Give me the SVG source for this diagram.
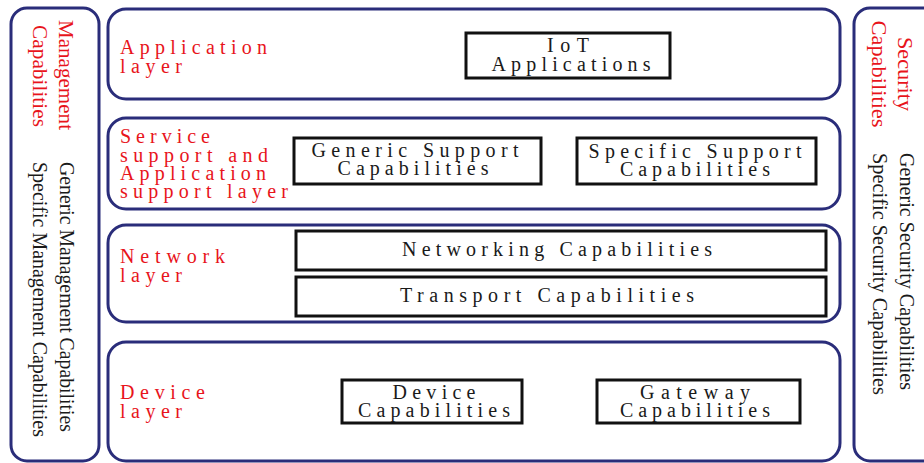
<svg xmlns="http://www.w3.org/2000/svg" width="924" height="463" viewBox="0 0 924 463">
<style>
.panel{fill:#fff;stroke:#2a2d7a;stroke-width:3}
.box{fill:#fff;stroke:#111;stroke-width:3}
.red{fill:#e8141b;font-family:"Liberation Serif",serif;font-size:20px}
.blk{fill:#1a1a1a;font-family:"Liberation Serif",serif;font-size:20px}
.vr{fill:#e8141b;font-family:"Liberation Serif",serif;font-size:22px}
.vb{fill:#1a1a1a;font-family:"Liberation Serif",serif;font-size:22px}
</style>
<rect width="924" height="463" fill="#fff"/>
<g id="management">
<rect class="panel" x="11" y="8" width="88" height="453" rx="16"/>
<text class="vr" transform="translate(59,75) rotate(90)" text-anchor="middle" textLength="110" lengthAdjust="spacingAndGlyphs">Management</text>
<text class="vr" transform="translate(33,76) rotate(90)" text-anchor="middle" textLength="102" lengthAdjust="spacingAndGlyphs">Capabilities</text>
<text class="vb" transform="translate(60,162) rotate(90)" textLength="270" lengthAdjust="spacingAndGlyphs">Generic Management Capabilities</text>
<text class="vb" transform="translate(33,162) rotate(90)" textLength="275" lengthAdjust="spacingAndGlyphs">Specific Management Capabilities</text>
</g>
<g id="security">
<rect class="panel" x="854" y="8" width="84" height="453" rx="16"/>
<text class="vr" transform="translate(898,74) rotate(90)" text-anchor="middle" textLength="74" lengthAdjust="spacingAndGlyphs">Security</text>
<text class="vr" transform="translate(872,74) rotate(90)" text-anchor="middle" textLength="107" lengthAdjust="spacingAndGlyphs">Capabilities</text>
<text class="vb" transform="translate(900,153) rotate(90)" textLength="237" lengthAdjust="spacingAndGlyphs">Generic Security Capabilities</text>
<text class="vb" transform="translate(873,153) rotate(90)" textLength="242" lengthAdjust="spacingAndGlyphs">Specific Security Capabilities</text>
</g>
<g id="application-layer">
<rect class="panel" x="108" y="9" width="732" height="90" rx="18"/>
<text class="red" x="120" y="54" textLength="147">Application</text>
<text class="red" x="120" y="73" textLength="62">layer</text>
</g>
<g id="iot-applications">
<rect class="box" x="466" y="33" width="204" height="45"/>
<text class="blk" x="568" y="52" text-anchor="middle" textLength="42">IoT</text>
<text class="blk" x="571" y="71" text-anchor="middle" textLength="159">Applications</text>
</g>
<g id="service-layer">
<rect class="panel" x="108" y="118" width="732" height="91" rx="18"/>
<text class="red" x="120" y="143" textLength="90">Service</text>
<text class="red" x="120" y="162" textLength="148">support and</text>
<text class="red" x="120" y="180" textLength="146">Application</text>
<text class="red" x="120" y="198" textLength="168">support layer</text>
</g>
<g id="generic-support">
<rect class="box" x="294" y="138" width="247" height="46"/>
<text class="blk" x="415" y="157" text-anchor="middle" textLength="207">Generic Support</text>
<text class="blk" x="413" y="175" text-anchor="middle" textLength="151">Capabilities</text>
</g>
<g id="specific-support">
<rect class="box" x="577" y="138" width="239" height="46"/>
<text class="blk" x="695" y="158" text-anchor="middle" textLength="213">Specific Support</text>
<text class="blk" x="695" y="176" text-anchor="middle" textLength="150">Capabilities</text>
</g>
<g id="network-layer">
<rect class="panel" x="108" y="225" width="732" height="97" rx="18"/>
<text class="red" x="120" y="263" textLength="105">Network</text>
<text class="red" x="120" y="282" textLength="62">layer</text>
</g>
<g id="networking">
<rect class="box" x="296" y="231" width="530" height="39"/>
<text class="blk" x="557" y="256" text-anchor="middle" textLength="310">Networking Capabilities</text>
</g>
<g id="transport">
<rect class="box" x="296" y="277" width="530" height="39"/>
<text class="blk" x="547" y="302" text-anchor="middle" textLength="294">Transport  Capabilities</text>
</g>
<g id="device-layer">
<rect class="panel" x="108" y="342" width="732" height="119" rx="18"/>
<text class="red" x="120" y="399" textLength="85">Device</text>
<text class="red" x="120" y="418" textLength="62">layer</text>
</g>
<g id="device-cap">
<rect class="box" x="342" y="380" width="180" height="43"/>
<text class="blk" x="434" y="399" text-anchor="middle" textLength="83">Device</text>
<text class="blk" x="434" y="417" text-anchor="middle" textLength="152">Capabilities</text>
</g>
<g id="gateway-cap">
<rect class="box" x="597" y="380" width="203" height="43"/>
<text class="blk" x="695" y="399" text-anchor="middle" textLength="110">Gateway</text>
<text class="blk" x="695" y="417" text-anchor="middle" textLength="150">Capabilities</text>
</g>
<g id="connectors"></g>
</svg>
